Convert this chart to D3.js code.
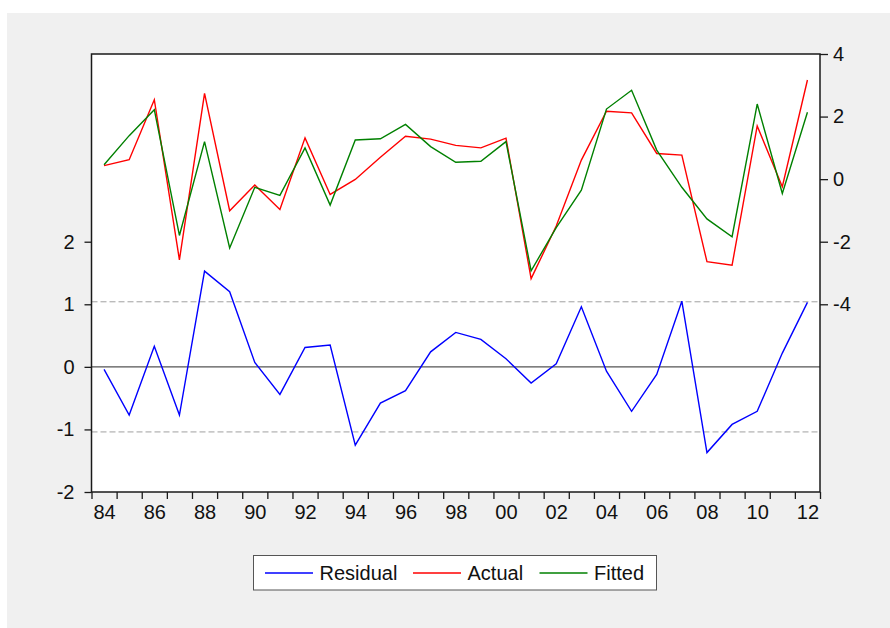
<!DOCTYPE html>
<html>
<head>
<meta charset="utf-8">
<script src="https://cdn.jsdelivr.net/npm/d3@7"></script>
<style>
  html, body { margin: 0; padding: 0; background: #ffffff; }
  svg { display: block; font-family: "Liberation Sans", Arial, sans-serif; }
</style>
</head>
<body>
<svg id="chart" width="890" height="628"></svg>
<script>
// ---- data ----
const years = d3.range(1984, 2013);
const residual = [-0.04, -0.77, 0.33, -0.77, 1.53, 1.20, 0.07, -0.44, 0.31, 0.35,
                  -1.25, -0.58, -0.38, 0.24, 0.55, 0.44, 0.13, -0.26, 0.05, 0.96,
                  -0.07, -0.71, -0.12, 1.05, -1.37, -0.92, -0.71, 0.22, 1.03];
const actual = [0.43, 0.62, 2.54, -2.58, 2.74, -1.01, -0.19, -0.97, 1.32, -0.49,
                -0.01, 0.70, 1.37, 1.28, 1.08, 1.00, 1.31, -3.18, -1.50, 0.61,
                2.17, 2.12, 0.82, 0.77, -2.64, -2.75, 1.70, -0.24, 3.17];
const fitted = [0.46, 1.39, 2.22, -1.80, 1.20, -2.20, -0.26, -0.52, 1.00, -0.83,
                1.25, 1.29, 1.75, 1.04, 0.54, 0.57, 1.20, -2.93, -1.55, -0.35,
                2.24, 2.84, 0.93, -0.26, -1.27, -1.84, 2.40, -0.46, 2.14];
const leftTicks = [-2, -1, 0, 1, 2];
const rightTicks = [-4, -2, 0, 2, 4];
const xLabelYears = d3.range(1984, 2013, 2);
const residualSE = 1.04;
const seriesNames = ["Residual", "Actual", "Fitted"];
const seriesColors = ["#0000ff", "#ff0000", "#008000"];

// ---- layout ----
const svg = d3.select("#chart");
const L = 91.5, R = 820, T = 54, B = 492;

svg.append("rect").attr("x", 7).attr("y", 13).attr("width", 883).attr("height", 615)
  .attr("fill", "#f0f0f0");
svg.append("rect").attr("x", L).attr("y", T).attr("width", R - L).attr("height", B - T)
  .attr("fill", "#ffffff");

const x = d3.scaleLinear().domain([years[0] - 0.5, years[years.length - 1] + 0.5]).range([L, R]);
const yL = d3.scaleLinear().domain([-2, 5]).range([B, T]);
const yR = d3.scaleLinear().domain([-10, 4]).range([B, T]);

// reference lines
svg.append("line").attr("x1", L).attr("x2", R).attr("y1", yL(0)).attr("y2", yL(0))
  .attr("stroke", "#555").attr("stroke-width", 1.3);
[residualSE, -residualSE].forEach(v => {
  svg.append("line").attr("x1", L).attr("x2", R).attr("y1", yL(v)).attr("y2", yL(v))
    .attr("stroke", "#a0a0a0").attr("stroke-width", 1).attr("stroke-dasharray", "6,3");
});

// series
const lineL = d3.line().x((d, i) => x(years[i])).y(d => yL(d));
const lineR = d3.line().x((d, i) => x(years[i])).y(d => yR(d));
svg.append("path").attr("d", lineR(actual)).attr("fill", "none")
  .attr("stroke", seriesColors[1]).attr("stroke-width", 1.4);
svg.append("path").attr("d", lineR(fitted)).attr("fill", "none")
  .attr("stroke", seriesColors[2]).attr("stroke-width", 1.4);
svg.append("path").attr("d", lineL(residual)).attr("fill", "none")
  .attr("stroke", seriesColors[0]).attr("stroke-width", 1.4);

// frame
svg.append("rect").attr("x", L).attr("y", T).attr("width", R - L).attr("height", B - T)
  .attr("fill", "none").attr("stroke", "#1a1a1a").attr("stroke-width", 1.5);

// axes
const fs = "20px";
const fmt = d => String(d);
const gl = svg.append("g").attr("transform", `translate(${L},0)`)
  .call(d3.axisLeft(yL).tickValues(leftTicks).tickSize(7).tickPadding(10).tickFormat(fmt));
const gr = svg.append("g").attr("transform", `translate(${R},0)`)
  .call(d3.axisRight(yR).tickValues(rightTicks).tickSize(8).tickPadding(5).tickFormat(fmt));
const boundaries = years.map(y => y - 0.5).concat([years[years.length - 1] + 0.5]);
const gb = svg.append("g").attr("transform", `translate(0,${B})`)
  .call(d3.axisBottom(x).tickValues(boundaries).tickSize(7).tickFormat(""));
const gbl = svg.append("g").attr("transform", `translate(0,${B})`)
  .call(d3.axisBottom(x).tickValues(xLabelYears).tickSize(0).tickPadding(13)
    .tickFormat(d => String(d).slice(2)));
[gl, gr, gb, gbl].forEach(g => {
  g.select(".domain").remove();
  g.selectAll("line").attr("stroke", "#1a1a1a").attr("stroke-width", 1.3);
  g.selectAll("text").attr("fill", "#111").style("font-size", fs)
    .style("font-family", '"Liberation Sans", Arial, sans-serif');
});

// legend
const lg = svg.append("g");
lg.append("rect").attr("x", 253.5).attr("y", 555.5).attr("width", 403).attr("height", 34.5)
  .attr("fill", "#ffffff").attr("stroke", "#555").attr("stroke-width", 1);
const legX = [265, 413, 539.5];
seriesNames.forEach((name, i) => {
  lg.append("line").attr("x1", legX[i]).attr("x2", legX[i] + 48).attr("y1", 573).attr("y2", 573)
    .attr("stroke", seriesColors[i]).attr("stroke-width", 1.3);
  lg.append("text").attr("x", legX[i] + 54.5).attr("y", 579.5).text(name)
    .attr("fill", "#111").style("font-size", fs);
});
</script>
</body>
</html>
